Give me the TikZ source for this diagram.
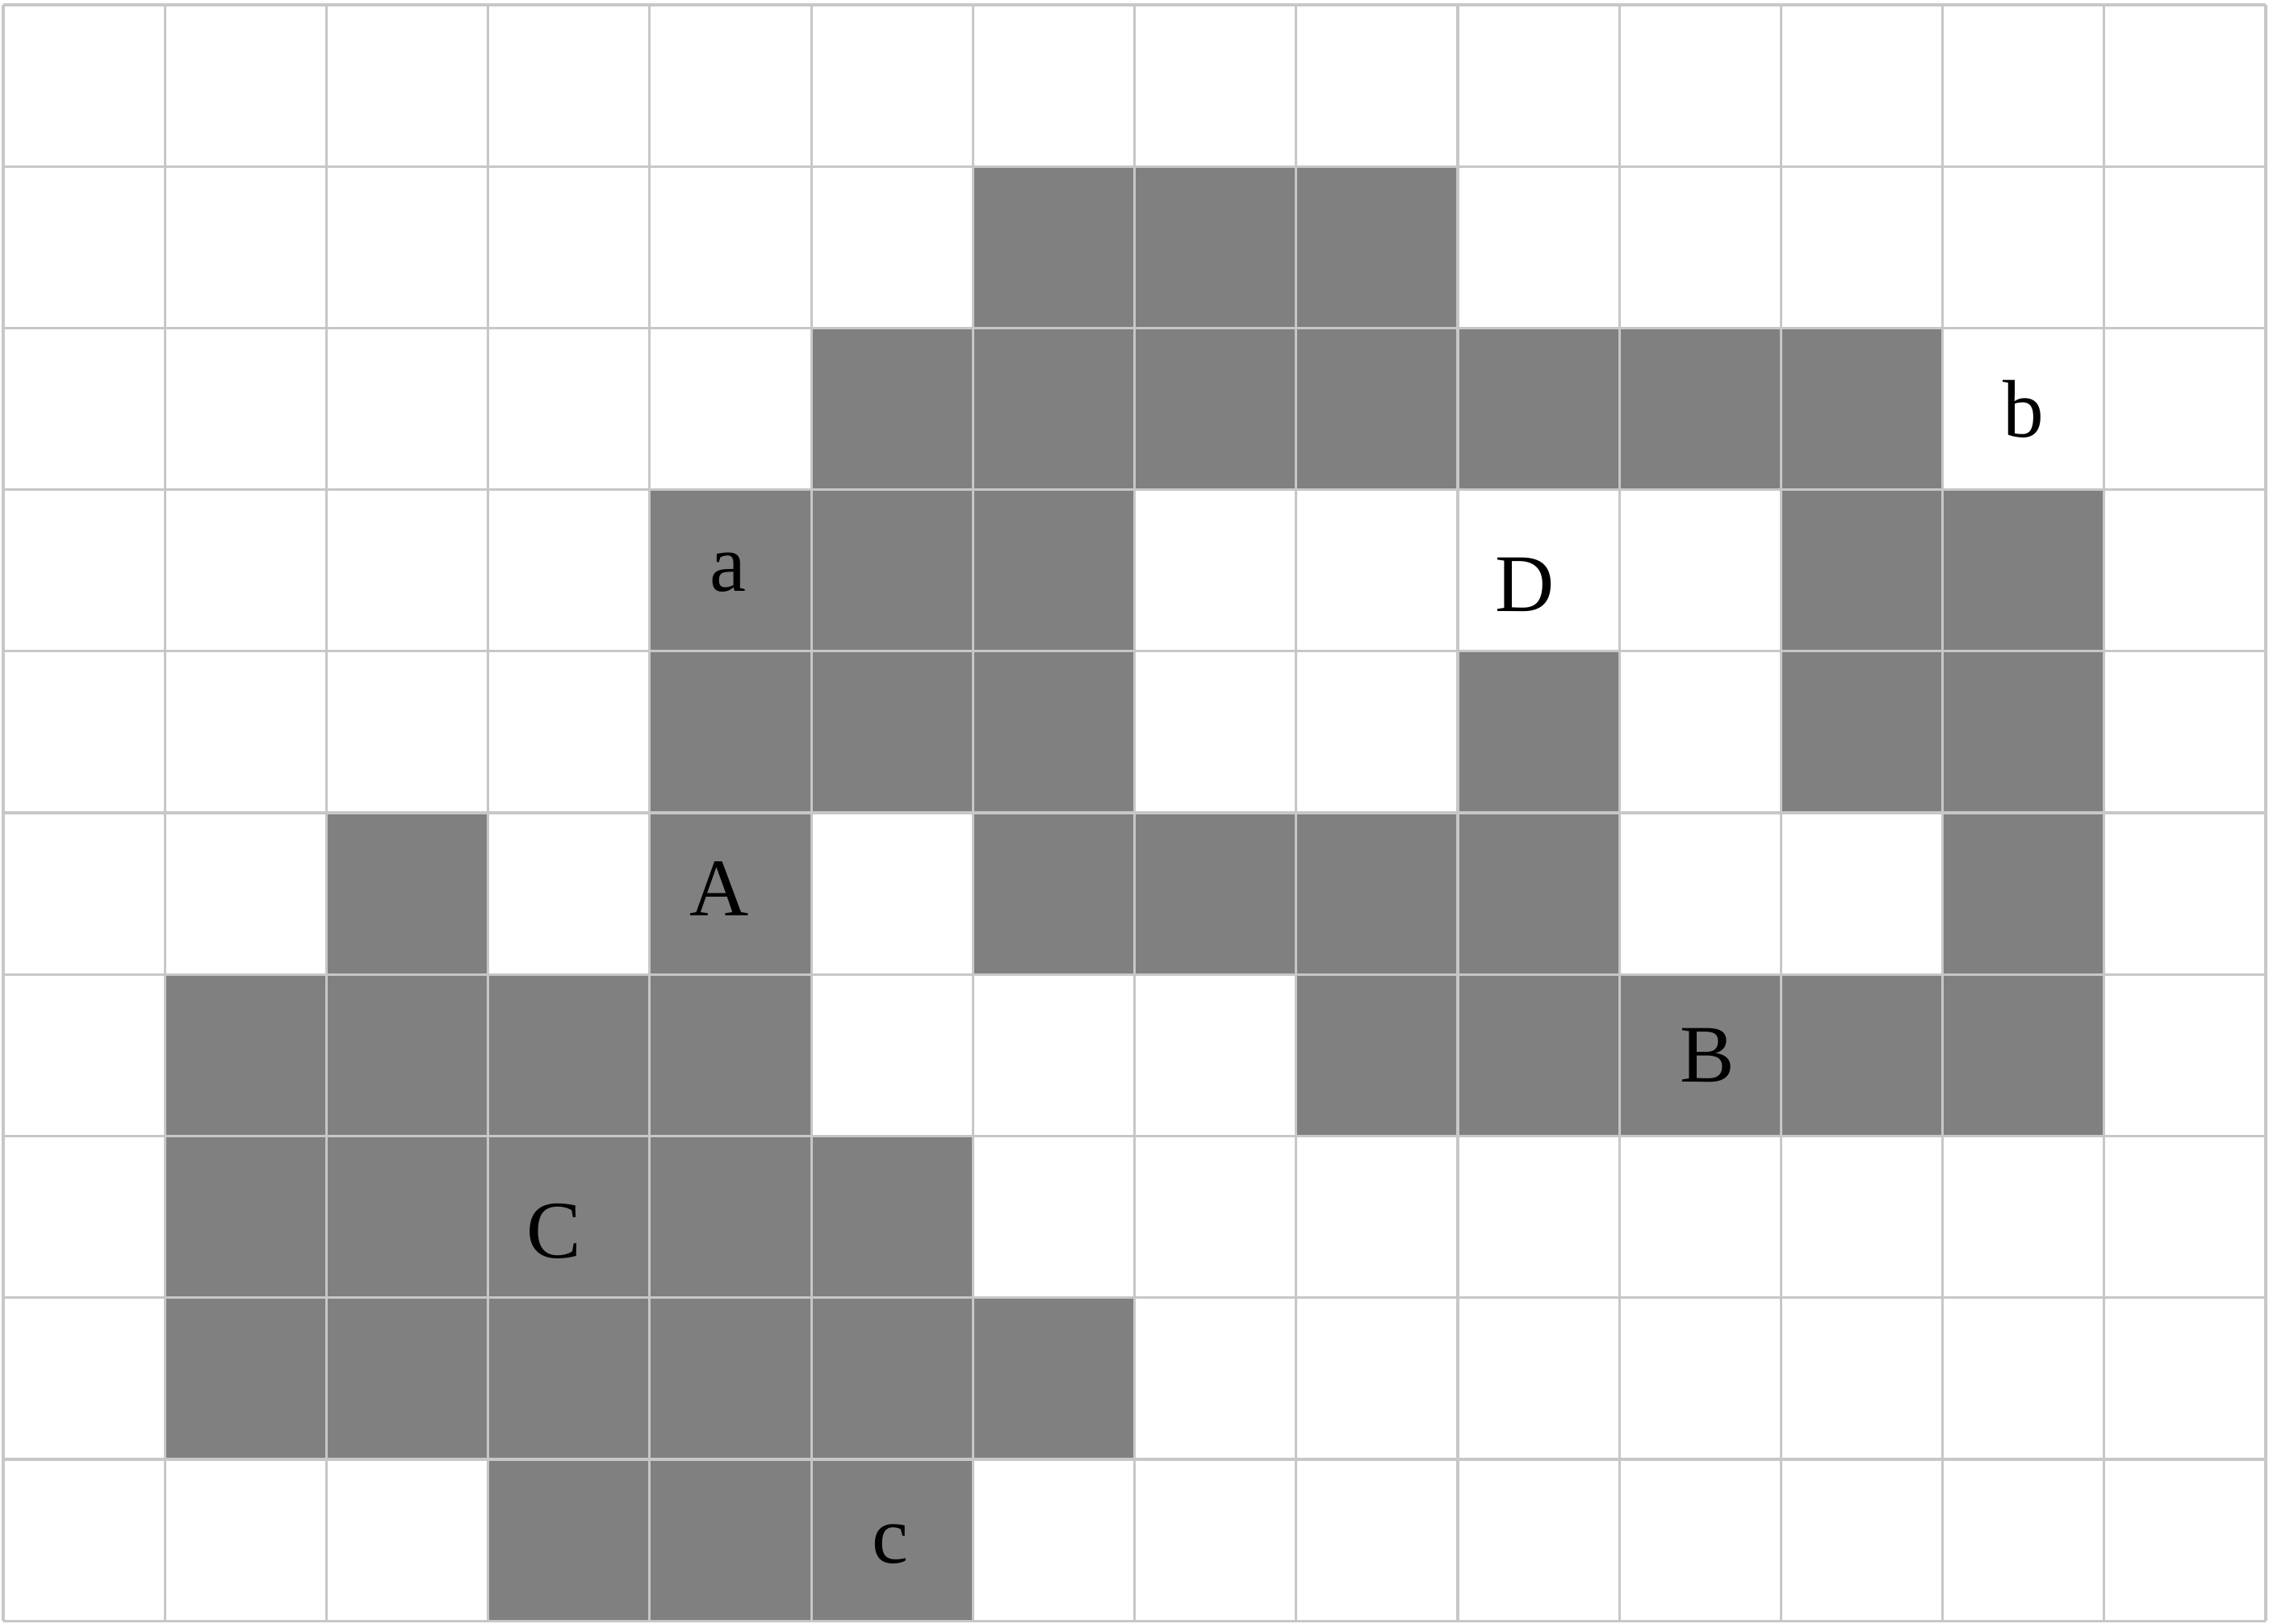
\documentclass[tikz,border=0pt]{standalone}
\usepackage{fontspec}
\setmainfont{Liberation Serif}
\begin{document}
\begin{tikzpicture}[x=1cm,y=1cm,
  cellfill/.style={fill=black!50,draw=none},
  gridline/.style={draw=black!22,line width=0.45pt},
  lbl/.style={inner sep=0pt,font=\fontsize{14.4}{17}\selectfont,text=black}]
\useasboundingbox (-0.02,-0.015) rectangle (14.02,10.03);
% gray cells: (col,row from top)
\foreach \c/\r in {6/1,7/1,8/1,
  5/2,6/2,7/2,8/2,9/2,10/2,11/2,
  4/3,5/3,6/3,11/3,12/3,
  4/4,5/4,6/4,9/4,11/4,12/4,
  2/5,4/5,6/5,7/5,8/5,9/5,12/5,
  1/6,2/6,3/6,4/6,8/6,9/6,10/6,11/6,12/6,
  1/7,2/7,3/7,4/7,5/7,
  1/8,2/8,3/8,4/8,5/8,6/8,
  3/9,4/9,5/9}
  \path[cellfill] (\c,{9-\r}) rectangle ++(1,1);
\draw[gridline] (0,0) grid (14,10);
\node[lbl] (la) at (4.485,6.49) {a};
\node[lbl] (lA) at (4.43,4.53) {A};
\node[lbl] (lb) at (12.5,7.5) {b};
\node[lbl] (lD) at (9.415,6.41) {D};
\node[lbl] (lB) at (10.545,3.5) {B};
\node[lbl] (lC) at (3.41,2.41) {C};
\node[lbl] (lc) at (5.49,0.475) {c};
\end{tikzpicture}
\end{document}
